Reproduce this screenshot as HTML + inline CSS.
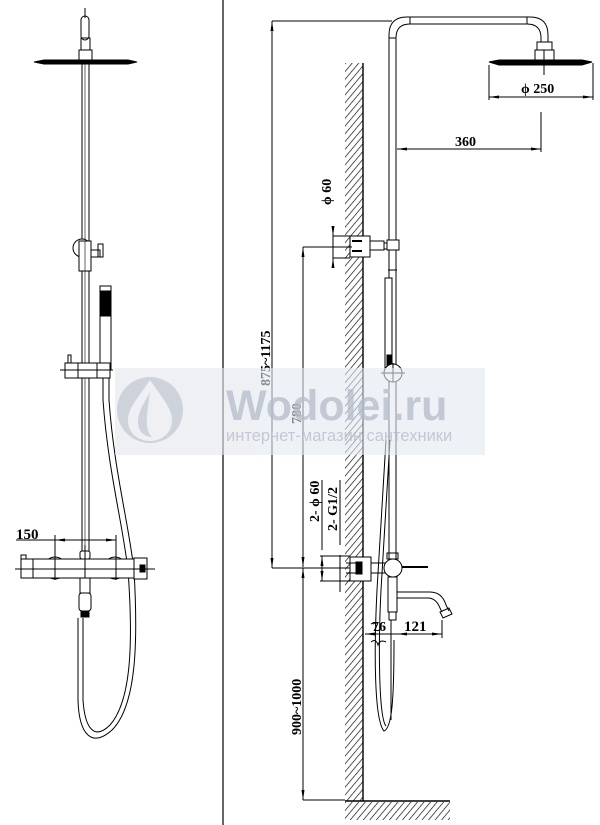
<!DOCTYPE html>
<html><head><meta charset="utf-8"><style>
html,body{margin:0;padding:0;background:#fff}
svg{display:block}
.t{font-family:"Liberation Serif",serif;font-weight:bold;fill:#000}
.w{font-family:"Liberation Sans",sans-serif;font-weight:bold;fill:#b4bccb}
</style></head><body>
<svg width="600" height="825" viewBox="0 0 600 825" xmlns="http://www.w3.org/2000/svg">
<defs>
<pattern id="h" width="5" height="5" patternUnits="userSpaceOnUse" patternTransform="rotate(40)">
<line x1="0" y1="0" x2="0" y2="5" stroke="#000" stroke-width="1.3"/>
</pattern>
<marker id="a" markerWidth="10" markerHeight="6" refX="10" refY="3" orient="auto-start-reverse" markerUnits="userSpaceOnUse"><path d="M0,1.5 L10,3 L0,4.5z" fill="#000"/></marker>
</defs>
<rect x="0" y="0" width="600" height="825" fill="#fff"/>
<line x1="223" y1="0" x2="223" y2="825" stroke="#666" stroke-width="2"/>

<g fill="none" stroke="#000" stroke-width="1">
<!-- LEFT VIEW -->
<line x1="85" y1="8" x2="85" y2="18"/>
<rect x="81" y="16" width="8" height="24" rx="4"/>
<rect x="81" y="38" width="9" height="12"/>
<rect x="79" y="50" width="13" height="11"/>
<path d="M34,62 L44,60 L128,60 L137,62 L128,64 L44,64 Z" fill="#000"/>
<line x1="82" y1="64" x2="82" y2="552"/>
<line x1="89" y1="64" x2="89" y2="552"/>
<line x1="85" y1="64" x2="85" y2="552" stroke-width="0.6"/>
<circle cx="82" cy="248" r="9" fill="#fff"/>
<rect x="79" y="241" width="12" height="30" fill="#fff"/>
<line x1="85" y1="241" x2="85" y2="271" stroke-width="0.6"/>
<rect x="91" y="250" width="9" height="7"/>
<rect x="98" y="244" width="5" height="13"/>
<rect x="100" y="286" width="11" height="84"/>
<rect x="101" y="291" width="9" height="25" fill="#000"/>
<rect x="68" y="355" width="3" height="9"/>
<rect x="65" y="363" width="45" height="15" fill="#fff"/>
<line x1="60" y1="370" x2="113" y2="370"/>
<line x1="78" y1="363" x2="78" y2="378"/>
<line x1="97" y1="363" x2="97" y2="378"/>
<line x1="82" y1="378" x2="82" y2="552"/>
<line x1="89" y1="378" x2="89" y2="552"/>
<path d="M103,378 L103,400 C108,470 122,520 128,570 C133,640 132,700 110,725 C95,740 85,730 83,700 L83,618"/>
<path d="M109,378 L109,400 C114,470 128,520 134,570 C138,640 137,705 112,730 C92,748 79,735 78,700 L78,618"/>
<circle cx="55" cy="568" r="11" fill="#fff"/>
<circle cx="115" cy="568" r="11" fill="#fff"/>
<rect x="80" y="551" width="10" height="8" rx="2" fill="#fff"/>
<rect x="21" y="559" width="113" height="19" fill="#fff"/>
<rect x="21" y="555" width="5" height="4"/>
<line x1="33" y1="559" x2="33" y2="578"/>
<rect x="134" y="558" width="13" height="21" fill="#fff"/>
<rect x="140" y="565" width="5" height="7" fill="#000"/>
<line x1="15" y1="569" x2="155" y2="569"/>
<line x1="85" y1="545" x2="85" y2="595"/>
<rect x="80" y="578" width="10" height="15" fill="#fff"/>
<rect x="79" y="593" width="12" height="18" rx="3" fill="#fff"/>
<rect x="81" y="611" width="8" height="6" fill="#000"/>
<line x1="55" y1="535" x2="55" y2="580"/>
<line x1="116" y1="535" x2="116" y2="580"/>
<line x1="16" y1="540" x2="55" y2="540"/>
<line x1="55" y1="540" x2="116" y2="540" marker-start="url(#a)" marker-end="url(#a)"/>

<!-- RIGHT VIEW -->
<rect x="345" y="63" width="18" height="738" fill="url(#h)" stroke="none"/>
<line x1="363" y1="63" x2="363" y2="801" stroke-width="1.4"/>
<rect x="345" y="802" width="105" height="18" fill="url(#h)" stroke="none"/>
<line x1="345" y1="801" x2="450" y2="801" stroke-width="1.4"/>
<path d="M389,570 L389,35 Q389,17 407,17 L530,17 Q548,17 548,35 L548,42"/>
<path d="M396,570 L396,38 Q396,24 410,24 L527,24 Q541,24 541,38 L541,42"/>
<line x1="389" y1="38" x2="396" y2="38"/>
<line x1="410" y1="17" x2="410" y2="24"/>
<line x1="527" y1="17" x2="527" y2="24"/>
<rect x="537" y="42" width="15" height="8"/>
<rect x="535" y="50" width="19" height="10"/>
<path d="M489,62 L499,60 L582,60 L592,62 L582,65 L499,65 Z" fill="#000"/>
<line x1="544" y1="50" x2="544" y2="75"/>
<line x1="489" y1="65" x2="489" y2="100"/>
<line x1="593" y1="63" x2="593" y2="100"/>
<line x1="489" y1="97" x2="593" y2="97" marker-start="url(#a)" marker-end="url(#a)"/>
<line x1="541" y1="112" x2="541" y2="152"/>
<line x1="397" y1="149" x2="541" y2="149" marker-start="url(#a)" marker-end="url(#a)"/>
<line x1="272" y1="21" x2="392" y2="21"/>
<line x1="272" y1="21" x2="272" y2="568" marker-start="url(#a)" marker-end="url(#a)"/>
<rect x="350" y="236" width="20" height="21" fill="#fff"/>
<line x1="352" y1="241" x2="362" y2="241" stroke-width="2"/>
<line x1="352" y1="251" x2="362" y2="251" stroke-width="2"/>
<rect x="370" y="241" width="14" height="9"/>
<rect x="384" y="243" width="5" height="6"/>
<rect x="387" y="240" width="12" height="10" fill="#fff"/>
<line x1="388" y1="270" x2="397" y2="270"/>
<line x1="333" y1="236" x2="350" y2="236"/>
<line x1="333" y1="258" x2="350" y2="258"/>
<line x1="333" y1="228" x2="333" y2="236" marker-end="url(#a)"/>
<line x1="333" y1="266" x2="333" y2="258" marker-end="url(#a)"/>
<line x1="333" y1="236" x2="333" y2="258"/>
<line x1="303" y1="247" x2="352" y2="247"/>
<line x1="303" y1="247" x2="303" y2="567" marker-start="url(#a)" marker-end="url(#a)"/>
<rect x="385" y="278" width="7" height="92" fill="#fff"/>
<rect x="387" y="355" width="4" height="14" fill="#000"/>
<circle cx="393" cy="373" r="9" fill="#fff"/>
<line x1="381" y1="373" x2="405" y2="373"/>
<line x1="393" y1="363" x2="393" y2="382"/>
<path d="M386,440 L377,590 C374,650 374,720 384,731 C392,728 394,700 394,640"/>
<path d="M390,440 L381,590 C378,650 379,718 386,726"/>
<rect x="350" y="557" width="21" height="24" fill="#fff"/>
<rect x="356" y="562" width="6" height="12" fill="#000"/>
<line x1="346" y1="563" x2="356" y2="563"/><line x1="346" y1="573" x2="356" y2="573"/>
<rect x="371" y="563" width="15" height="10"/>
<rect x="387" y="553" width="11" height="6"/>
<circle cx="393" cy="568" r="9" fill="#fff"/>
<line x1="402" y1="567" x2="428" y2="567" stroke-width="2"/>
<rect x="388" y="577" width="9" height="35" fill="#fff"/>
<path d="M397,592 L430,592 Q442,592 446,605 L449,611 M397,598 L428,598 Q436,598 440,608 L442,612"/>
<path d="M440,612 L449,608 L452,614 L443,618 Z"/>
<rect x="389" y="612" width="7" height="8"/>
<line x1="391" y1="620" x2="391" y2="720"/>
<line x1="272" y1="568" x2="350" y2="568"/>
<line x1="303" y1="568" x2="303" y2="800" marker-start="url(#a)" marker-end="url(#a)"/>
<line x1="303" y1="800" x2="345" y2="800"/>
<line x1="320" y1="556" x2="350" y2="556"/>
<line x1="320" y1="581" x2="350" y2="581"/>
<line x1="322" y1="556" x2="322" y2="581" marker-start="url(#a)" marker-end="url(#a)"/>
<line x1="340" y1="555" x2="340" y2="592"/>
<line x1="340" y1="480" x2="340" y2="545"/>
<line x1="322" y1="480" x2="322" y2="550"/>
<line x1="365" y1="634" x2="442" y2="634"/>
<line x1="365" y1="634" x2="372" y2="634" marker-start="url(#a)"/>
<line x1="442" y1="620" x2="442" y2="638"/>
<line x1="397" y1="634" x2="442" y2="634" marker-start="url(#a)" marker-end="url(#a)"/>
<path d="M371,624 Q376,621 376,627 Q374,632 380,630 M371,642 Q376,638 378,645 Q380,639 386,642"/>
</g>

<text class="t" x="16" y="539" font-size="15">150</text>
<text class="t" x="521" y="93" font-size="14">ϕ 250</text>
<text class="t" x="455" y="146" font-size="14">360</text>
<text class="t" font-size="14" transform="translate(270,386) rotate(-90)">875~1175</text>
<text class="t" font-size="14" transform="translate(331,205) rotate(-90)">ϕ 60</text>
<text class="t" font-size="14" transform="translate(301,424) rotate(-90)">780</text>
<text class="t" font-size="14" transform="translate(319,522) rotate(-90)">2- ϕ 60</text>
<text class="t" font-size="14" transform="translate(337,531) rotate(-90)">2- G1/2</text>
<text class="t" x="372" y="631" font-size="14">76</text>
<text class="t" x="404" y="631" font-size="15">121</text>
<text class="t" font-size="14" transform="translate(301,735) rotate(-90)">900~1000</text>

<g opacity="0.6">
<rect x="115" y="368" width="370" height="87" fill="#e3e7ee"/>
<circle cx="150" cy="410" r="33" fill="#aeb6c4"/>
<path d="M150,380 C138,398 128,408 128,420 C128,433 138,441 150,441 C162,441 172,433 172,420 C172,408 162,398 150,380 Z" fill="#e3e7ee"/>
<path d="M150,392 C143,405 138,412 138,422 C138,431 144,437 152,437 C145,430 146,420 150,392 Z" fill="#aeb6c4"/>
</g>
<text class="w" x="226" y="420" font-size="43" opacity="0.75">Wodolei.ru</text>
<text class="w" x="226" y="441" font-size="16.5" font-weight="normal" style="font-weight:normal" opacity="0.75">интернет-магазин сантехники</text>
</svg>
</body></html>
